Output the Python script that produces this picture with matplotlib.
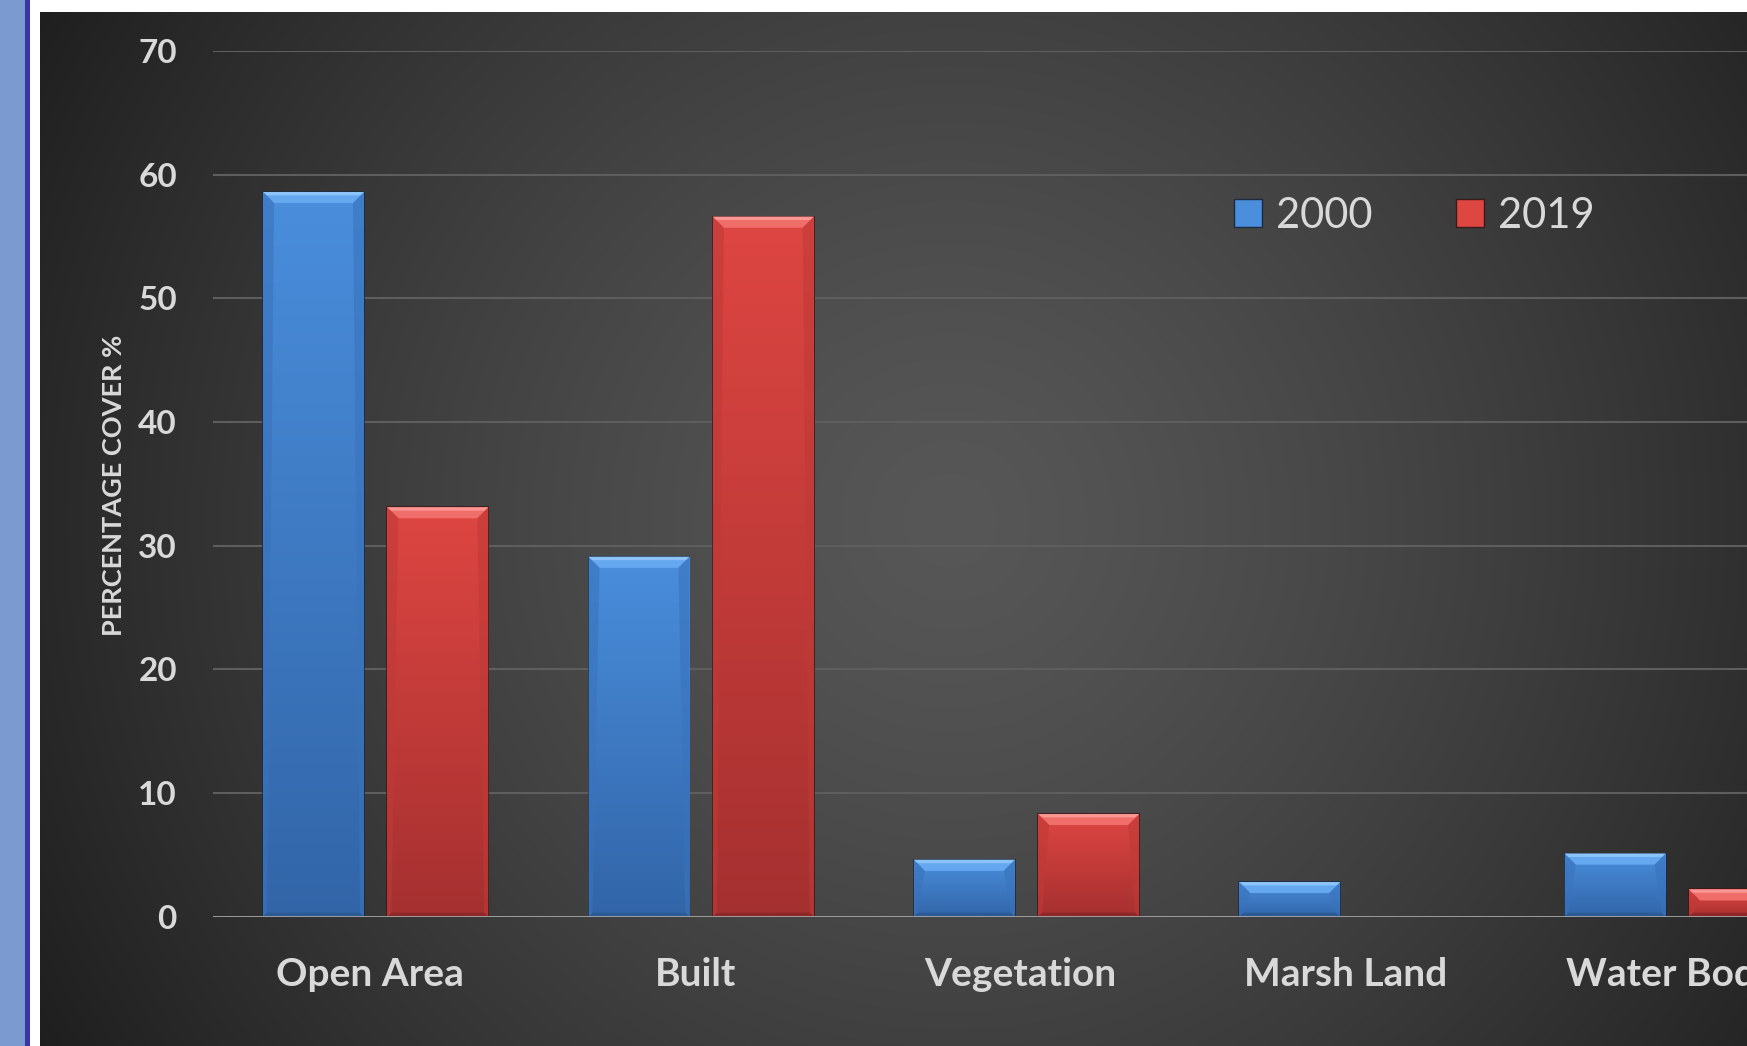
import numpy as np
import matplotlib.pyplot as plt
from matplotlib.patches import Rectangle, Polygon, Patch
from matplotlib.colors import LinearSegmentedColormap
from matplotlib.transforms import ScaledTranslation

plt.rcParams['font.family'] = ['Lato', 'DejaVu Sans']

categories = ["Open Area", "Built", "Vegetation", "Marsh Land", "Water Body"]
years = ["2000", "2019"]
cover_2000 = [58.6, 29.1, 4.6, 2.8, 5.1]
cover_2019 = [33.1, 56.6, 8.3, 0.0, 2.2]
yticks = [0, 10, 20, 30, 40, 50, 60, 70]

W, H = 1747, 1046
fig = plt.figure(figsize=(W / 100, H / 100), dpi=100)
fig.patch.set_facecolor("white")

# side strip on the left
fig.add_artist(Rectangle((0, 0), 25 / W, 1, transform=fig.transFigure,
                         facecolor="#7B9BD0", edgecolor="none"))
fig.add_artist(Rectangle((25 / W, 0), 5 / W, 1, transform=fig.transFigure,
                         facecolor="#3A36A8", edgecolor="none"))

# dark radial background of the chart area
bg = fig.add_axes([40 / W, 0, 1 - 40 / W, 1 - 12 / H])
bg.set_axis_off()
xx, yy = np.meshgrid(np.arange(40, W), np.arange(12, H))
d = np.hypot(xx - 950, yy - 520) / 1045.0
shade = (87 - 56 * np.clip(d, 0, 1.1) ** 1.3) / 255.0
bg.imshow(np.dstack([shade, shade, shade]), aspect="auto", interpolation="bilinear")

ax = fig.add_axes([213 / W, (H - 916.7) / H, 1627 / W, 865.7 / H])
ax.patch.set_alpha(0)
for s in ax.spines.values():
    s.set_visible(False)
ax.set_xlim(-0.5, 4.5)
ax.set_ylim(0, 70)

for y in yticks[1:]:
    ax.axhline(y, color="#5E5E5E", lw=1.5, zorder=0)
ax.axhline(0, color="#A6A6A6", lw=2, zorder=5)

x = np.arange(len(categories))
width = 0.31
offset = 0.191

# pixels per data unit, used for the bevel size
p0 = ax.transData.transform((0, 0))
p1 = ax.transData.transform((1, 1))
ppx, ppy = p1[0] - p0[0], p1[1] - p0[1]

styles = {
    "2000": dict(top="#4A8EDC", bottom="#3265A8", bevel="#66A8F0", hi="#8CC4FA",
                 side="#3A73BC", base="#2B5A96", edge="#1C2B40"),
    "2019": dict(top="#DE4642", bottom="#A53030", bevel="#F06E6A", hi="#FA9794",
                 side="#BF3A37", base="#8E2828", edge="#3A1A1A"),
}

for vals, off, year in [(cover_2000, -offset, "2000"), (cover_2019, offset, "2019")]:
    st = styles[year]
    cmap = LinearSegmentedColormap.from_list(year, [st["top"], st["bottom"]])
    bars = ax.bar(x + off, vals, width, color=st["top"], edgecolor=st["edge"],
                  linewidth=1.2, zorder=2)
    for b in bars:
        x0, w, h = b.get_x(), b.get_width(), b.get_height()
        if h <= 0:
            continue
        im = ax.imshow(np.linspace(0, 1, 256).reshape(-1, 1), cmap=cmap,
                       extent=[x0, x0 + w, 0, h], aspect="auto", zorder=3)
        im.set_clip_path(b)
        bx, by = 11 / ppx, 11 / ppy
        sx = 4 / ppx
        ax.add_patch(Polygon([(x0, h), (x0 + w, h), (x0 + w - bx, h - by), (x0 + bx, h - by)],
                             closed=True, facecolor=st["bevel"], edgecolor="none", zorder=4))
        ax.add_patch(Polygon([(x0, h), (x0 + w, h), (x0 + w - bx * 0.3, h - by * 0.3),
                              (x0 + bx * 0.3, h - by * 0.3)],
                             closed=True, facecolor=st["hi"], edgecolor="none", zorder=4))
        ax.add_patch(Polygon([(x0, h), (x0 + bx, h - by), (x0 + sx, 4 / ppy), (x0, 0)],
                             closed=True, facecolor=st["side"], edgecolor="none", alpha=0.6, zorder=4))
        ax.add_patch(Polygon([(x0 + w, h), (x0 + w - bx, h - by), (x0 + w - sx, 4 / ppy), (x0 + w, 0)],
                             closed=True, facecolor=st["side"], edgecolor="none", alpha=0.6, zorder=4))
        ax.add_patch(Polygon([(x0, 0), (x0 + w, 0), (x0 + w - sx, 4 / ppy), (x0 + sx, 4 / ppy)],
                             closed=True, facecolor=st["base"], edgecolor="none", zorder=4))

ax.set_xlim(-0.5, 4.5)
ax.set_ylim(0, 70)
ax.set_yticks(yticks)
ax.set_xticks(x)
ax.set_xticklabels(categories)
ax.tick_params(axis="y", length=0, pad=26, labelsize=24, labelcolor="#D9D9D9")
ax.tick_params(axis="x", length=0, pad=29, labelsize=28, labelcolor="#D9D9D9")
shift = ScaledTranslation(-6 / 100, 0, fig.dpi_scale_trans)
for lab in ax.get_xticklabels():
    lab.set_transform(lab.get_transform() + shift)
for lab in ax.get_yticklabels() + ax.get_xticklabels():
    lab.set_fontweight("bold")

fig.text(114 / W, 1 - 485 / H, "PERCENTAGE COVER %", rotation=90, ha="center", va="center",
         fontsize=19.5, fontweight="bold", color="#D9D9D9")

handles = [Patch(facecolor=styles[y]["top"], edgecolor=styles[y]["edge"]) for y in years]
leg = ax.legend(handles, years, ncol=2, loc="center left",
                bbox_to_anchor=(1234 / W, 1 - 215.5 / H), bbox_transform=fig.transFigure,
                frameon=False, fontsize=30, handlelength=0.67, handleheight=0.67,
                handletextpad=0.34, columnspacing=2.0, borderpad=0, borderaxespad=0)
for t in leg.get_texts():
    t.set_color("#D9D9D9")

fig.savefig("out.png", dpi=100)
